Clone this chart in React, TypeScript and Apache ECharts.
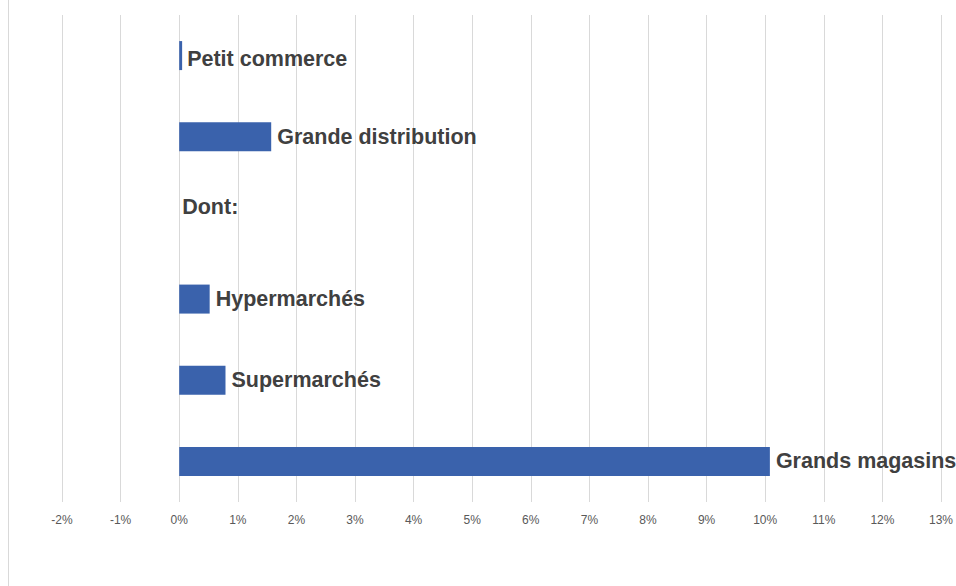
import React, { useEffect, useRef } from "react";
import * as echarts from "echarts";

const categories = ["Petit commerce", "Grande distribution", "Dont:", "Hypermarchés", "Supermarchés", "Grands magasins"];
const values = [0.05, 1.57, 0, 0.52, 0.79, 10.08];
const xTicks = { min: -2, max: 13, interval: 1 };

export default function App() {
  const ref = useRef<HTMLDivElement>(null);
  useEffect(() => {
    const chart = echarts.init(ref.current!, null, { renderer: "svg" });
    const labelFont = {
      fontFamily: "Liberation Sans, Arial, sans-serif",
      fontWeight: "bold" as const,
      fontSize: 21.5,
      color: "#404040",
    };
    chart.setOption({
      animation: false,
      backgroundColor: "#ffffff",
      grid: { left: 62, right: 12, top: 15, bottom: 84, containLabel: false },
      xAxis: {
        type: "value",
        min: xTicks.min,
        max: xTicks.max,
        interval: xTicks.interval,
        axisLine: { show: false },
        axisTick: { show: false },
        splitLine: { show: true, lineStyle: { color: "#d9d9d9", width: 1 } },
        axisLabel: {
          formatter: (v: number) => `${v}%`,
          color: "#595959",
          fontSize: 12,
          fontFamily: "Liberation Sans, Arial, sans-serif",
          margin: 12,
        },
      },
      yAxis: {
        type: "category",
        data: categories,
        inverse: true,
        axisLine: { show: false },
        axisTick: { show: false },
        axisLabel: { show: false },
        splitLine: { show: false },
      },
      series: [
        {
          type: "bar",
          barWidth: 29,
          itemStyle: { color: "#3A62AC" },
          data: values.map((v, i) => ({
            value: v,
            label: {
              show: true,
              position: "right",
              distance: 6,
              formatter: categories[i],
              ...labelFont,
              ...(v === 0 ? { offset: [-3, -11] } : i === 0 ? { offset: [-1, 3] } : {}),
            },
          })),
        },
      ],
      graphic: [
        {
          type: "line",
          shape: { x1: 8.5, y1: 0, x2: 8.5, y2: 586 },
          style: { stroke: "#d9d9d9", lineWidth: 1 },
        },
      ],
    });
    return () => chart.dispose();
  }, []);
  return (
    <div
      ref={ref}
      style={{ position: "fixed", left: 0, top: 0, width: 956, height: 586 }}
    />
  );
}
